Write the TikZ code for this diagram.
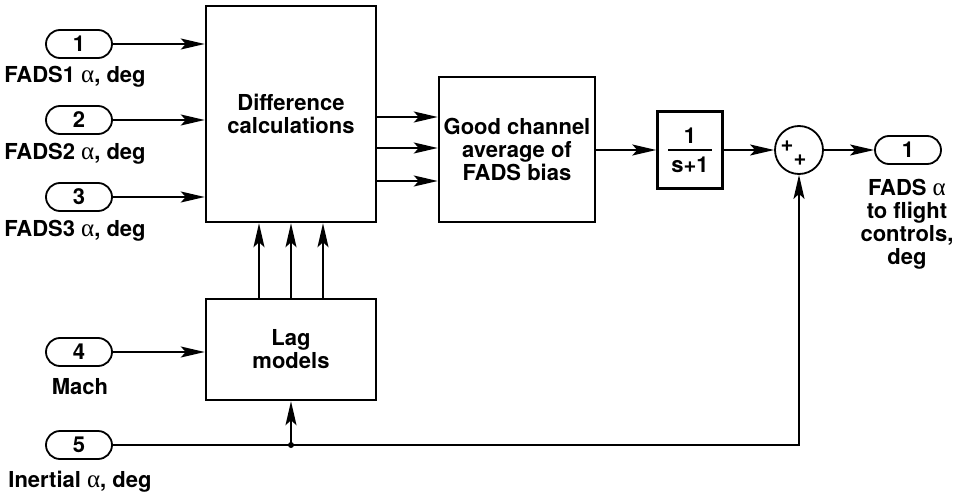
\documentclass[tikz,border=0pt]{standalone}
\usepackage{fontspec}
\setmainfont{TeX Gyre Heros}
\newfontfamily\greekf{Liberation Serif}
\newcommand{\alp}{{\greekf\mdseries\fontsize{25}{23}\selectfont α}}
\usetikzlibrary{arrows.meta,shapes.misc,calc}
\begin{document}
\begin{tikzpicture}[x=1pt,y=-1pt,
  every node/.style={font=\bfseries\fontsize{22}{23}\selectfont},
  term/.style={draw,rounded rectangle,line width=1.8pt,minimum width=66pt,minimum height=28pt,inner sep=0pt},
  blockbox/.style={draw,rectangle,line width=2.5pt,inner sep=0pt,align=center},
  lbl/.style={align=center,inner sep=0pt},
  conn/.style={line width=1.7pt},
  arr/.style={conn,-{Stealth[length=24pt,width=11pt,inset=5pt]}}]
\useasboundingbox (0,0) rectangle (956,495);
% inputs
\node[term] (i1) at (79,44) {1};
\node[lbl] (l1) at (75,77) {FADS1 \alp, deg};
\node[term] (i2) at (79,120) {2};
\node[lbl] (l2) at (75,154) {FADS2 \alp, deg};
\node[term] (i3) at (79,197) {3};
\node[lbl] (l3) at (75,231) {FADS3 \alp, deg};
\node[term] (i4) at (79,352) {4};
\node[lbl] (l4) at (80,387) {Mach};
\node[term] (i5) at (79,445) {5};
\node[lbl] (l5) at (80,482) {Inertial \alp, deg};
% blocks
\node[blockbox,minimum width=170pt,minimum height=216pt] (diff) at (291,114) {Difference\\calculations};
\node[blockbox,minimum width=156pt,minimum height=145pt] (good) at (517,149.5) {Good channel\\average of\\FADS bias};
\node[blockbox,minimum width=65pt,minimum height=77pt] (tf) at (690,150) {};
\node[lbl] (tfn) at (690,136) {1};
\node[lbl] (tfd) at (690,165) {s+1};
\draw[line width=1.5pt] (tf.center) ++(-22,0) -- ++(44,0);
\node[blockbox,minimum width=170pt,minimum height=101pt] (lag) at (291,349.5) {Lag\\models};
\node[draw,circle,line width=1.8pt,minimum size=48pt,inner sep=0pt] (sum) at (799,150) {};
\node[lbl,font=\bfseries\fontsize{22}{22}\selectfont] (p1) at (787,146) {+};
\node[lbl,font=\bfseries\fontsize{22}{22}\selectfont] (p2) at (800,160) {+};
\node[term] (out) at (908,150) {1};
\node[lbl] (lo) at (907,224) {FADS \alp\\to flight\\controls,\\deg};
% connectors
\draw[arr] (i1.east) -- (i1.east -| diff.west);
\draw[arr] (i2.east) -- (i2.east -| diff.west);
\draw[arr] (i3.east) -- (i3.east -| diff.west);
\foreach \yy in {117,148,181}
  \draw[arr] (diff.east |- {(0,\yy)}) -- (good.west |- {(0,\yy)});
\foreach \xx in {259,291,323}
  \draw[arr] (lag.north -| {(\xx,0)}) -- (diff.south -| {(\xx,0)});
\draw[arr] (good.east |- tf.west) -- (tf.west);
\draw[arr] (tf.east) -- (sum.west);
\draw[arr] (sum.east) -- (out.west);
\draw[arr] (i4.east) -- (i4.east -| lag.west);
\coordinate (j) at (lag.south |- i5.east);
\draw[arr] (i5.east) -| (sum.south);
\draw[arr] (j) -- (lag.south);
\fill (j) circle (3pt);
\end{tikzpicture}
\end{document}
